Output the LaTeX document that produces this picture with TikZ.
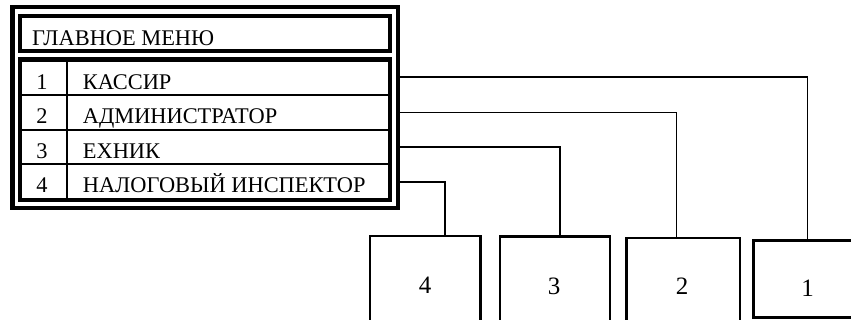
\documentclass[tikz,border=0pt]{standalone}
\usepackage{fontspec}
\setmainfont{Liberation Serif}
\usetikzlibrary{calc}

\begin{document}
\begin{tikzpicture}[x=1pt,y=-1pt,
    frame/.style={draw, line width=4.5pt, inner sep=0pt},
    rowbox/.style={draw, line width=1.6pt, inner sep=0pt, minimum width=370pt},
    item/.style={anchor=base west, inner sep=0pt, font=\fontsize{22.4}{26}\selectfont},
    unit/.style={draw, line width=2.4pt, inner sep=0pt},
    num/.style={inner sep=0pt, font=\fontsize{25}{30}\selectfont},
    wire/.style={line width=1.5pt}]
        \useasboundingbox (0,0) rectangle (851,320);
        \clip (0,0) rectangle (851,320);

        \node [rowbox, minimum height=35.5pt] (row1) at (205,77.25) {};
        \node [rowbox, minimum height=35pt] (row2) at (205,112.5) {};
        \node [rowbox, minimum height=34pt] (row3) at (205,147) {};
        \node [rowbox, minimum height=36pt] (row4) at (205,182) {};
        \draw [line width=1.8pt] ([xshift=48pt]row1.north west) -- ([xshift=48pt]row4.south west);

        \node [frame, minimum width=370pt, minimum height=35pt] (title) at (205,33.5) {};
        \node [frame, minimum width=370pt, minimum height=140.5pt] (list) at (205,129.75) {};
        \node [frame, minimum width=385.5pt, minimum height=201pt] (outer) at (205.25,107.5) {};

        \node [item] (head) at (32,45.7) {ГЛАВНОЕ МЕНЮ};
        \node [item, anchor=base] (k1) at (42,89.3) {1};
        \node [item, anchor=base] (k2) at (42,124) {2};
        \node [item, anchor=base] (k3) at (42,158.3) {3};
        \node [item, anchor=base] (k4) at (42,192.7) {4};
        \node [item] (i1) at (82.7,89.3) {КАССИР};
        \node [item] (i2) at (82.7,124) {АДМИНИСТРАТОР};
        \node [item] (i3) at (82.7,158.3) {ЕХНИК};
        \node [item] (i4) at (82.7,192.7) {НАЛОГОВЫЙ ИНСПЕКТОР};

        \node [unit, minimum width=110.7pt, minimum height=98pt] (box4) at (425.3,285) {};
        \node [unit, minimum width=110pt, minimum height=98pt] (box3) at (555,285.7) {};
        \node [unit, minimum width=113.3pt, minimum height=96pt] (box2) at (683.3,286) {};
        \node [unit, minimum width=108.7pt, minimum height=76.6pt] (box1) at (807.7,279) {};
        \node [num] (n4) at (425,285) {4};
        \node [num] (n3) at (554,286) {3};
        \node [num] (n2) at (682,286) {2};
        \node [num] (n1) at (807.7,288) {1};

        \draw [wire] (outer.east |- row1.center) -| (box1.north);
        \draw [wire] (outer.east |- row2.center) -| ([xshift=-6.6pt]box2.north);
        \draw [wire] (outer.east |- row3.center) -| ([xshift=5pt]box3.north);
        \draw [wire] (outer.east |- row4.center) -| ([xshift=19.7pt]box4.north);
    \end{tikzpicture}
\end{document}
